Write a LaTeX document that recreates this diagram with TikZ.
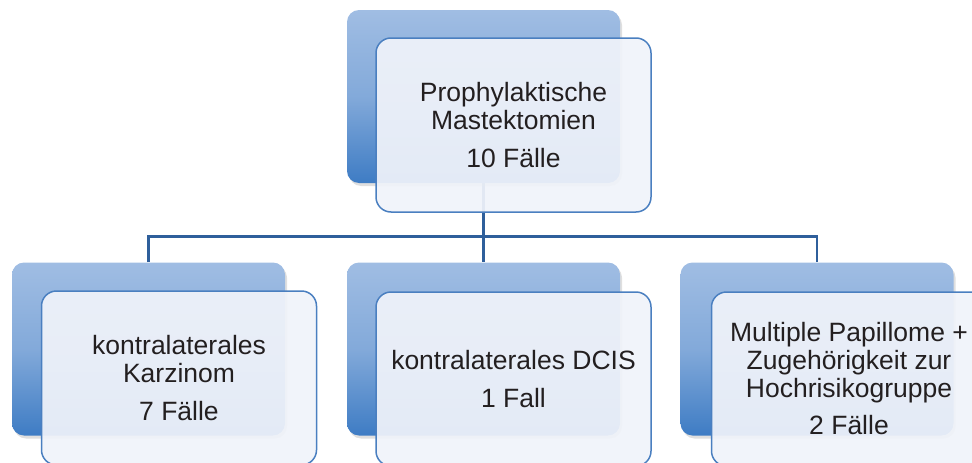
\documentclass[tikz,border=0pt]{standalone}
\usepackage{fontspec}
\setmainfont{Liberation Sans}
\usetikzlibrary{shadows}
\pgfdeclarelayer{bg}
\pgfsetlayers{bg,main}
\definecolor{backtop}{HTML}{A0BDE3}
\definecolor{backbot}{HTML}{3E7CC4}
\definecolor{frontfill}{HTML}{F0F3FA}
\definecolor{frontline}{HTML}{4A7FC0}
\definecolor{connline}{HTML}{2F5F9B}
\definecolor{txt}{HTML}{231F20}
\tikzset{
  backbox/.style={rectangle, rounded corners=12pt, inner sep=0pt,
    minimum width=273pt, minimum height=173pt,
    top color=backtop, bottom color=backbot, middle color=backtop!70!backbot,
    drop shadow={opacity=0.25, shadow xshift=2pt, shadow yshift=-3pt}},
  frontbox/.style={rectangle, rounded corners=15pt, inner sep=0pt,
    minimum width=275pt, minimum height=174pt,
    draw=frontline, line width=1.5pt,
    fill=frontfill, fill opacity=0.93, text opacity=1,
    text=txt, align=center,
    font=\fontsize{26.5}{28}\selectfont},
  conn/.style={draw=connline, line width=2.4pt}
}
\begin{document}
\begin{tikzpicture}[x=1pt,y=-1pt]
\useasboundingbox (0,0) rectangle (972,463);
% top
\node[backbox] (b0) at (483.5,96.5) {};
\node[frontbox] (f0) at (513.5,125) {Prophylaktische\\Mastektomien\\[10pt]10 Fälle};
% bottom left
\node[backbox] (l0) at (148.5,349) {};
\node[frontbox] (lf) at (179,378) {kontralaterales\\Karzinom\\[10pt]7 Fälle};
% bottom middle
\node[backbox] (m0) at (483.5,349) {};
\node[frontbox] (mf) at (513.5,379) {kontralaterales DCIS\\[10pt]1 Fall};
% bottom right
\node[backbox] (r0) at (817,349) {};
\node[frontbox] (rf) at (849,379) {Multiple Papillome +\\Zugehörigkeit zur\\Hochrisikogruppe\\[9pt]2 Fälle};
\begin{pgfonlayer}{bg}
\draw[conn] (b0.south) -- (m0.north);
\draw[conn] (l0.north) -- ++(0,-26) -| (r0.north);
\end{pgfonlayer}
\end{tikzpicture}
\end{document}
